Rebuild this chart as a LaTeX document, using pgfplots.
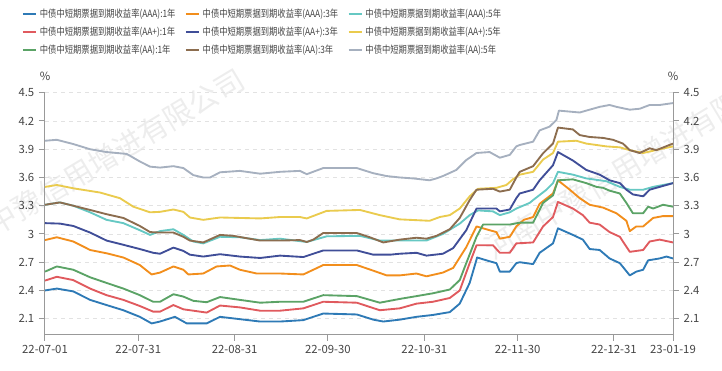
\documentclass[border=0pt]{standalone}
\usepackage{fontspec}
\setmainfont{Noto Sans CJK SC}
\newfontfamily\legfont{Noto Sans CJK SC}[FakeStretch=0.82]
\newfontfamily\wmfont{Noto Sans CJK SC}
\usepackage{pgfplots}
\pgfplotsset{compat=1.18}
\definecolor{cAAAa}{HTML}{2E7AB6}
\definecolor{cAAAc}{HTML}{F28E1C}
\definecolor{cAAAe}{HTML}{66C8C3}
\definecolor{cAPa}{HTML}{E05A5E}
\definecolor{cAPc}{HTML}{404E98}
\definecolor{cAPe}{HTML}{EACB4E}
\definecolor{cAAa}{HTML}{5BA366}
\definecolor{cAAc}{HTML}{8C6D4F}
\definecolor{cAAe}{HTML}{A6B0BF}
\definecolor{axgray}{HTML}{999999}
\definecolor{gridgray}{HTML}{E2E2E2}
\definecolor{txtgray}{HTML}{444444}
\definecolor{wmgray}{HTML}{EDEDED}
\begin{document}
\begin{tikzpicture}[x=1pt,y=1pt]
\useasboundingbox (0,0) rectangle (541.5,278.25);
\begin{scope}
\clip (0,0) rectangle (541.5,278.25);
\node[rotate=31,text=wmgray,font=\wmfont\fontsize{22}{22}\selectfont] at (68,153) {河南中豫信用增进有限公司};
\node[rotate=31,text=wmgray,font=\wmfont\fontsize{22}{22}\selectfont] at (479,158) {河南中豫信用增进有限公司};
\end{scope}
\pgfplotsset{
  base/.style={
    at={(33.75pt,27pt)}, anchor=south west, scale only axis,
    width=471pt, height=181.7pt,
    xmin=0, xmax=202, ymin=1.927, ymax=4.5,
    ytick={2.1,2.4,2.7,3,3.3,3.6,3.9,4.2,4.5},
    tick align=outside, major tick length=4.5pt,
    every tick/.style={axgray, line width=0.75pt},
    axis line style={axgray, line width=0.75pt},
    tick label style={text=txtgray, font=\fontsize{8.5}{10}\selectfont},
    /pgf/number format/assume math mode=true,
    /pgf/number format/fixed, /pgf/number format/precision=1,
  }
}
\begin{axis}[base,
  axis x line*=bottom, axis y line*=left,
  xtick={0,30,61,91,122,152,183,202},
  xticklabels={22-07-01,22-07-31,22-08-31,22-09-30,22-10-31,22-11-30,22-12-31,23-01-19},
  ymajorgrids,
  grid style={gridgray, line width=0.6pt, dash pattern=on 3pt off 3pt},
  every axis plot/.append style={line width=1.4pt, mark=none, line join=round},
  legend columns=3,
  legend cell align=left,
  legend style={at={(-0.037,1.358)}, anchor=north west, draw=none, fill=none,
    font=\legfont\fontsize{7.6}{8}\selectfont, text=txtgray,
    row sep=1.4pt, inner sep=0pt,
    /tikz/every even column/.append style={column sep=5pt}},
  legend image code/.code={\draw[#1] (0pt,0pt) -- (10pt,0pt);},
]
\addplot[cAAAa] coordinates {(0,2.40)(3.8,2.42)(9.1,2.39)(14.5,2.30)(19.8,2.245)(25.2,2.19)(30.5,2.12)(34.3,2.05)(37,2.07)(41.8,2.12)(45.6,2.05)(52,2.05)(56.3,2.12)(62.7,2.095)(69.2,2.07)(75.6,2.07)(83.1,2.085)(89.5,2.155)(100.3,2.145)(105.6,2.09)(108.8,2.07)(114.1,2.09)(119.5,2.12)(124.8,2.14)(130.2,2.17)(133.4,2.26)(136.6,2.48)(139,2.75)(143,2.71)(145.2,2.69)(146.3,2.60)(149.5,2.60)(151.6,2.69)(152.7,2.70)(157,2.68)(159.1,2.80)(163.4,2.90)(165,3.06)(169.8,2.99)(173,2.94)(175.2,2.84)(178.4,2.83)(181.6,2.74)(184.9,2.69)(188.1,2.56)(190.2,2.60)(192.4,2.62)(194,2.72)(197.7,2.74)(199.9,2.76)(202,2.74)};
\addlegendentry{中债中短期票据到期收益率(AAA):1年}
\addplot[cAAAc] coordinates {(0,2.935)(3.8,2.965)(9.1,2.92)(14.5,2.83)(19.8,2.795)(25.2,2.75)(30.5,2.67)(34.3,2.57)(37,2.59)(41.3,2.655)(44.5,2.62)(46.1,2.57)(50.9,2.58)(55.2,2.655)(59.5,2.665)(62.7,2.62)(68.1,2.58)(75.6,2.58)(83.1,2.57)(89.5,2.67)(100.3,2.67)(105.6,2.61)(109.9,2.56)(114.1,2.56)(119.5,2.58)(122.7,2.55)(128,2.59)(131.3,2.64)(135.5,2.86)(138.8,3.08)(143,3.04)(145.2,3.02)(146.3,2.95)(149.5,2.97)(151.6,3.08)(154,3.15)(157,3.18)(159.1,3.32)(163.4,3.43)(165,3.57)(168.8,3.47)(172,3.38)(175.2,3.31)(179.5,3.28)(183.8,3.22)(187,3.14)(188.1,3.03)(190.2,3.08)(192.4,3.08)(195.6,3.17)(198.8,3.19)(202,3.19)};
\addlegendentry{中债中短期票据到期收益率(AAA):3年}
\addplot[cAAAe] coordinates {(0,3.31)(4.8,3.335)(9.1,3.30)(14.5,3.23)(19.8,3.15)(25.2,3.115)(30.5,3.04)(33.8,2.99)(37,3.03)(41.3,3.05)(44.5,2.99)(47.7,2.92)(50.9,2.90)(56.3,2.97)(62.7,2.965)(69.2,2.935)(75.6,2.95)(84.2,2.915)(90.6,2.975)(101.3,2.98)(107.7,2.93)(114.1,2.93)(122.7,2.93)(128,3.0)(133.4,3.11)(136.6,3.20)(139.3,3.25)(144.1,3.24)(146.3,3.20)(149.5,3.23)(151.6,3.27)(155.9,3.33)(157,3.36)(161.3,3.47)(163.4,3.54)(165,3.66)(169.8,3.63)(174.1,3.59)(180.6,3.56)(184.9,3.50)(188.1,3.47)(192.4,3.47)(195.6,3.50)(202,3.54)};
\addlegendentry{中债中短期票据到期收益率(AAA):5年}
\addplot[cAPa] coordinates {(0,2.505)(3.8,2.545)(9.1,2.51)(14.5,2.42)(19.8,2.35)(25.2,2.30)(30.5,2.235)(34.8,2.175)(37,2.175)(41.3,2.245)(44.5,2.20)(52,2.165)(56.3,2.24)(62.7,2.22)(69.2,2.185)(75.6,2.185)(83.1,2.21)(89.5,2.28)(100.3,2.27)(107.7,2.19)(114.1,2.21)(119.5,2.26)(124.8,2.28)(130.2,2.32)(133.4,2.40)(136.6,2.69)(138.8,2.88)(144.1,2.88)(146.3,2.80)(149.5,2.80)(151.6,2.90)(157,2.91)(160.2,3.08)(163.4,3.18)(165,3.34)(169.8,3.27)(173,3.20)(175.2,3.12)(178.4,3.10)(181.6,3.02)(184.9,2.97)(188.1,2.81)(192.4,2.83)(194.5,2.92)(197.7,2.94)(202,2.91)};
\addlegendentry{中债中短期票据到期收益率(AA+):1年}
\addplot[cAPc] coordinates {(0,3.115)(4.8,3.11)(9.1,3.085)(14.5,3.015)(19.8,2.93)(25.2,2.885)(30.5,2.84)(34.8,2.80)(37,2.79)(41.3,2.855)(44.5,2.82)(46.6,2.78)(50.9,2.76)(56.3,2.785)(62.7,2.76)(69.2,2.745)(75.6,2.77)(83.1,2.755)(89.5,2.825)(100.3,2.825)(105.6,2.78)(111,2.78)(114.1,2.79)(119.5,2.80)(122.7,2.77)(128,2.79)(131.3,2.85)(135.5,3.04)(138.8,3.27)(145.2,3.27)(146.3,3.24)(149.5,3.26)(151.6,3.38)(152.7,3.43)(157,3.47)(159.1,3.57)(163.4,3.73)(165,3.87)(169.8,3.78)(174.1,3.68)(178.4,3.63)(181.6,3.57)(184.9,3.54)(187,3.47)(189.1,3.42)(192.4,3.40)(194.5,3.47)(197.7,3.50)(202,3.54)};
\addlegendentry{中债中短期票据到期收益率(AA+):3年}
\addplot[cAPe] coordinates {(0,3.50)(3.8,3.52)(9.1,3.485)(17.7,3.44)(24.1,3.38)(28.4,3.29)(33.8,3.23)(37,3.235)(41.3,3.26)(44.5,3.235)(46.6,3.175)(50.9,3.15)(56.3,3.175)(62.7,3.17)(69.2,3.165)(75.6,3.18)(82,3.18)(84.2,3.165)(90.6,3.245)(101.3,3.255)(107.7,3.20)(114.1,3.155)(123.7,3.14)(127,3.18)(130.2,3.20)(133.4,3.27)(136.6,3.40)(139.3,3.48)(145.2,3.49)(148.4,3.52)(150.5,3.58)(152.7,3.63)(157,3.66)(160.2,3.79)(163.4,3.86)(165,3.98)(170.9,3.99)(174.1,3.96)(180.6,3.93)(184.9,3.92)(188.1,3.89)(192.4,3.86)(197.7,3.90)(202,3.93)};
\addlegendentry{中债中短期票据到期收益率(AA+):5年}
\addplot[cAAa] coordinates {(0,2.60)(3.8,2.655)(9.1,2.62)(14.5,2.54)(19.8,2.48)(25.2,2.42)(30.5,2.35)(34.8,2.28)(37,2.28)(41.3,2.36)(44.5,2.335)(47.7,2.29)(52,2.275)(56.3,2.33)(62.7,2.30)(69.2,2.27)(75.6,2.28)(83.1,2.28)(89.5,2.35)(100.3,2.34)(107.7,2.27)(114.1,2.31)(119.5,2.34)(124.8,2.37)(130.2,2.41)(133.4,2.51)(135.5,2.69)(138.8,2.97)(140.9,3.10)(149.5,3.10)(152.7,3.12)(157,3.12)(160.2,3.33)(163.4,3.41)(165,3.57)(169.8,3.58)(174.1,3.54)(177.4,3.50)(179.5,3.49)(181.6,3.46)(184.9,3.43)(187,3.33)(189.1,3.22)(192.4,3.22)(194,3.29)(195.6,3.27)(198.8,3.31)(202,3.29)};
\addlegendentry{中债中短期票据到期收益率(AA):1年}
\addplot[cAAc] coordinates {(0,3.31)(4.8,3.335)(9.1,3.30)(14.5,3.255)(19.8,3.21)(25.2,3.17)(30.5,3.085)(33.8,3.02)(37,3.015)(41.3,3.015)(44.5,2.97)(46.6,2.93)(50.9,2.91)(56.3,2.99)(60.6,2.98)(64.9,2.955)(69.2,2.93)(75.6,2.93)(82,2.935)(84.2,2.915)(86.3,2.94)(89.5,3.01)(100.3,3.01)(104.5,2.965)(108.8,2.91)(114.1,2.94)(119.5,2.96)(122.7,2.95)(125.9,2.98)(130.2,3.05)(133.4,3.17)(136.6,3.36)(138.8,3.47)(144.1,3.48)(146.3,3.45)(149.5,3.47)(151.6,3.60)(152.7,3.66)(157,3.72)(160.2,3.857)(163.4,3.96)(165,4.13)(169.8,4.11)(172,4.05)(175.2,4.03)(179.5,4.02)(182.7,4.00)(185.9,3.96)(188.1,3.89)(191.3,3.86)(194.5,3.91)(196.6,3.89)(202,3.96)};
\addlegendentry{中债中短期票据到期收益率(AA):3年}
\addplot[cAAe] coordinates {(0,3.99)(3.8,4.00)(9.1,3.955)(14.5,3.90)(19.8,3.87)(26.3,3.85)(30.5,3.77)(33.8,3.715)(37,3.705)(41.3,3.72)(44.5,3.70)(47.7,3.625)(50.9,3.60)(53.1,3.60)(56.3,3.655)(62.7,3.67)(69.2,3.64)(75.6,3.66)(82,3.67)(84.2,3.635)(89.5,3.70)(100.3,3.70)(105.6,3.645)(109.9,3.615)(114.1,3.60)(118.4,3.59)(123.7,3.57)(125.9,3.59)(128,3.615)(132.3,3.68)(135.5,3.785)(138.8,3.86)(143,3.87)(146.3,3.81)(149.5,3.84)(151.6,3.93)(152.7,3.945)(157,3.98)(159.1,4.10)(162.3,4.14)(164.5,4.21)(165.3,4.31)(172,4.29)(174.1,4.31)(178.4,4.35)(181.6,4.37)(183.8,4.35)(188.1,4.32)(191.3,4.33)(194.5,4.37)(197.7,4.37)(202,4.39)};
\addlegendentry{中债中短期票据到期收益率(AA):5年}
\end{axis}
\begin{axis}[base,
  axis x line=none, axis y line*=right,
  yticklabel pos=right,
]
\addplot[draw=none] coordinates {(0,3)};
\end{axis}
\node[text=txtgray, font=\fontsize{8.5}{10}\selectfont] at (33.75,221.25) {\%};
\node[text=txtgray, font=\fontsize{8.5}{10}\selectfont] at (504.75,221.25) {\%};
\end{tikzpicture}
\end{document}
